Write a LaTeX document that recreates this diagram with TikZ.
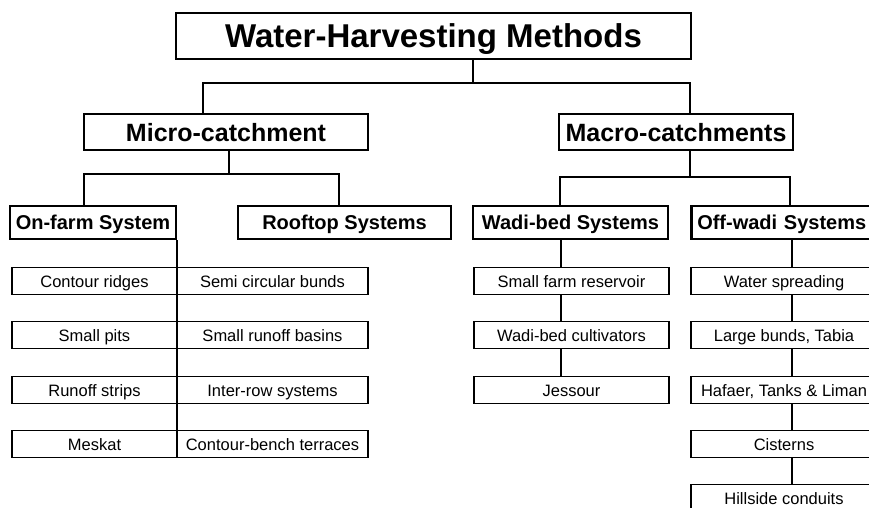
\documentclass[tikz,border=0pt]{standalone}
\usepackage{fontspec}
\setmainfont{Liberation Sans}
\usetikzlibrary{positioning}

\begin{document}
\begin{tikzpicture}[x=1pt, y=-1pt,
	titel/.style={rectangle, draw, line width=2.5pt, inner sep=0pt,
		minimum width=515pt, minimum height=46pt, text centered,
		text height=24pt, text depth=0pt,
		font=\fontsize{33}{36}\selectfont\bfseries},
	cat/.style={rectangle, draw, line width=2.5pt, inner sep=0pt,
		minimum height=36pt, text centered, text height=18pt, text depth=0pt,
		font=\fontsize{25}{28}\selectfont\bfseries},
	sys/.style={rectangle, draw, line width=2.5pt, inner sep=0pt,
		minimum height=33pt, text centered, text height=14.5pt, text depth=0pt,
		font=\fontsize{20}{22}\selectfont\bfseries},
	meth/.style={rectangle, draw, line width=1.3pt, inner sep=0pt, outer sep=0pt,
		minimum height=27pt, text centered, text height=12pt, text depth=0pt,
		font=\fontsize{16.5}{18}\selectfont},
	link/.style={line width=2.6pt}
	]
	\useasboundingbox (0,0) rectangle (869,508);
	\clip (0,0) rectangle (869,508);

	% top levels
	\node (whm) [titel] at (433.5,36) {Water-Harvesting Methods};
	\node (micro) [cat, minimum width=284pt] at (226,132) {Micro-catchment};
	\node (macro) [cat, minimum width=234pt] at (676,132) {Macro-catchments};
	\node (onfarm) [sys, minimum width=166pt] at (93,222.5) {On-farm System};
	\node (roof) [sys, minimum width=213pt] at (344.5,222.5) {Rooftop Systems};
	\node (wadi) [sys, minimum width=195pt] at (570.5,222.5) {Wadi-bed Systems};
	\node (offwadi) [sys, anchor=west, text width=190pt, align=left, inner xsep=6pt]
		at (690,222.5) {Off-wadi Systems};

	% on-farm
	\node (cr) [meth, minimum width=165pt] at (94.5,281) {Contour ridges};
	\node (sp) [meth, minimum width=165pt] at (94.5,335) {Small pits};
	\node (rs) [meth, minimum width=165pt] at (94.5,390) {Runoff strips};
	\node (me) [meth, minimum width=165pt] at (94.5,444) {Meskat};
	\node (scb) [meth, minimum width=191pt, right=0pt of cr] {Semi circular bunds};
	\node (srb) [meth, minimum width=191pt, right=0pt of sp] {Small runoff basins};
	\node (irs) [meth, minimum width=191pt, right=0pt of rs] {Inter-row systems};
	\node (cbt) [meth, minimum width=191pt, right=0pt of me] {Contour-bench terraces};

	% wadi-bed
	\node (sfr) [meth, minimum width=195pt] at (571.5,281) {Small farm reservoir};
	\node (wbc) [meth, minimum width=195pt] at (571.5,335) {Wadi-bed cultivators};
	\node (jes) [meth, minimum width=195pt] at (571.5,390) {Jessour};

	% off-wadi
	\node (ws) [meth, minimum width=186pt] at (784,281) {Water spreading};
	\node (lbt) [meth, minimum width=186pt] at (784,335) {Large bunds, Tabia};
	\node (htl) [meth, minimum width=186pt] at (784,390) {Hafaer, Tanks \& Liman};
	\node (cis) [meth, minimum width=186pt] at (784,444) {Cisterns};
	\node (hc) [meth, minimum width=186pt] at (784,498) {Hillside conduits};

	% forks
	\coordinate (tsplit) at (473,83);
	\coordinate (mleft) at (203,83);
	\coordinate (mright) at (690,83);
	\draw[link] (whm.south -| tsplit) -- (tsplit);
	\draw[link] (micro.north -| mleft) -- (mleft) -- (mright) -- (macro.north -| mright);

	\coordinate (misplit) at (229,174);
	\coordinate (ofl) at (84,174);
	\coordinate (rfr) at (339,174);
	\draw[link] (micro.south -| misplit) -- (misplit);
	\draw[link] (onfarm.north -| ofl) -- (ofl) -- (rfr) -- (roof.north -| rfr);

	\coordinate (masplit) at (690,177);
	\coordinate (wl) at (560,177);
	\coordinate (orr) at (790,177);
	\draw[link] (macro.south -| masplit) -- (masplit);
	\draw[link] (wadi.north -| wl) -- (wl) -- (orr) -- (offwadi.north -| orr);

	% chains
	\draw[link] (cr.north east |- onfarm.south) -- (cr.north east);
	\foreach \a/\b in {cr/sp, sp/rs, rs/me}
		\draw[link] (\a.south east) -- (\b.north east);
	\coordinate (wc) at (561,250);
	\draw[link] (wadi.south -| wc) -- (sfr.north -| wc);
	\foreach \a/\b in {sfr/wbc, wbc/jes}
		\draw[link] (\a.south -| wc) -- (\b.north -| wc);
	\coordinate (oc) at (792,250);
	\draw[link] (offwadi.south -| oc) -- (ws.north -| oc);
	\foreach \a/\b in {ws/lbt, lbt/htl, htl/cis, cis/hc}
		\draw[link] (\a.south -| oc) -- (\b.north -| oc);
\end{tikzpicture}
\end{document}
